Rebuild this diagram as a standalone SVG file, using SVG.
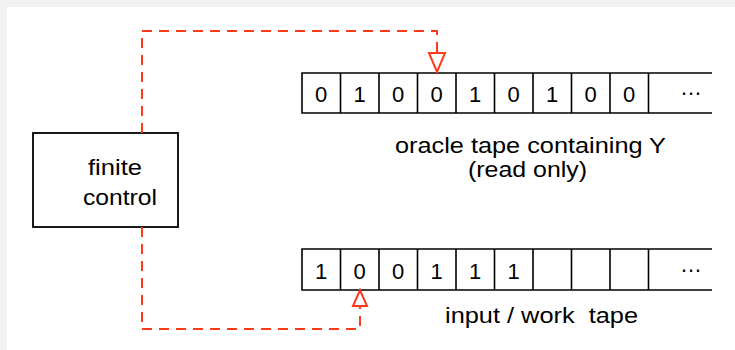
<svg xmlns="http://www.w3.org/2000/svg" width="735" height="350" viewBox="0 0 735 350">
<defs>
<style>
.tape{fill:none;stroke:#000;stroke-width:1.6}
.box{fill:#fff;stroke:#000;stroke-width:1.8}
.t{font-family:"Liberation Sans",Arial,Helvetica,sans-serif;font-size:22px;fill:#000}
.d{text-anchor:middle}
.conn{fill:none;stroke:#ff3a1a;stroke-width:2;stroke-dasharray:10 7}
.head{fill:#fff;stroke:#ff3a1a;stroke-width:2}
</style>
</defs>
<rect x="0" y="0" width="735" height="350" fill="#f1f1f1"/>
<rect x="7" y="7" width="728" height="343" fill="#fff"/>

<g id="finite-control">
<rect class="box" x="33" y="133" width="145" height="94"/>
<text class="t" x="88" y="175" textLength="54" lengthAdjust="spacingAndGlyphs">finite</text>
<text class="t" x="83" y="205" textLength="74" lengthAdjust="spacingAndGlyphs">control</text>
</g>

<g id="oracle-tape">
<path class="tape" d="M712,73 H302 V113 H712 M340.5,73 V113 M379,73 V113 M417.5,73 V113 M456,73 V113 M494.5,73 V113 M533,73 V113 M571.5,73 V113 M610,73 V113 M648.5,73 V113"/>
<g class="t d">
<text x="321.2" y="102">0</text>
<text x="359.7" y="102">1</text>
<text x="398.2" y="102">0</text>
<text x="436.7" y="102">0</text>
<text x="475.2" y="102">1</text>
<text x="513.7" y="102">0</text>
<text x="552.2" y="102">1</text>
<text x="590.7" y="102">0</text>
<text x="629.2" y="102">0</text>
<text x="691" y="95">…</text>
</g>
<text class="t" x="395" y="153" textLength="271" lengthAdjust="spacingAndGlyphs">oracle tape containing Y</text>
<text class="t" x="468" y="177" textLength="119" lengthAdjust="spacingAndGlyphs">(read only)</text>
</g>

<g id="work-tape">
<path class="tape" d="M712,249 H302 V290 H712 M340.5,249 V290 M379,249 V290 M417.5,249 V290 M456,249 V290 M494.5,249 V290 M533,249 V290 M571.5,249 V290 M610,249 V290 M648.5,249 V290"/>
<g class="t d">
<text x="321.2" y="279">1</text>
<text x="359.7" y="279">0</text>
<text x="398.2" y="279">0</text>
<text x="436.7" y="279">1</text>
<text x="475.2" y="279">1</text>
<text x="513.7" y="279">1</text>
<text x="691" y="272">…</text>
</g>
<text class="t" x="445" y="323" textLength="193" lengthAdjust="spacingAndGlyphs" xml:space="preserve">input / work  tape</text>
</g>

<g id="connectors">
<path class="conn" d="M142,133 V31 H437 V53"/>
<polygon class="head" points="429,53 445,53 437,72"/>
<path class="conn" d="M142,227 V329 H360 V306"/>
<polygon class="head" points="353,306 367,306 360,290"/>
</g>
</svg>
